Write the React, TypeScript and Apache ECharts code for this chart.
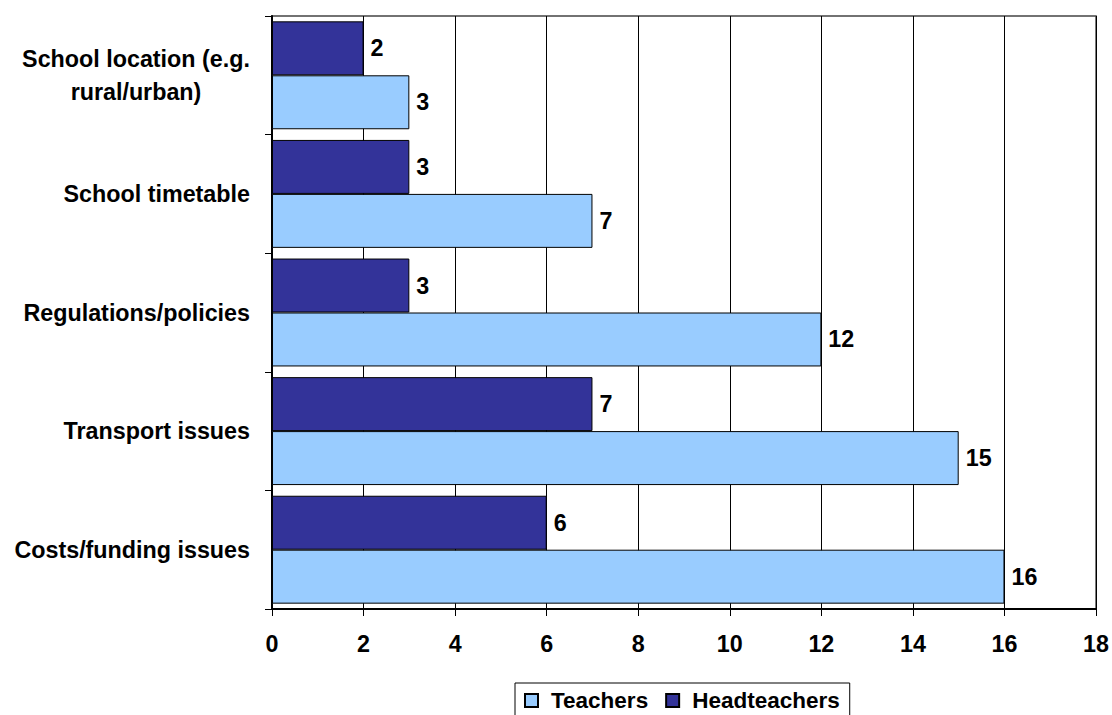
import React, { useEffect, useRef } from "react";
import * as echarts from "echarts";

const categories = [
  "Costs/funding issues",
  "Transport issues",
  "Regulations/policies",
  "School timetable",
  "School location (e.g.\nrural/urban)",
];
const teachers = [16, 15, 12, 7, 3];
const headteachers = [6, 7, 3, 3, 2];
const xTicks = { min: 0, max: 18, interval: 2 };

const FONT = 'Arial, "Liberation Sans", sans-serif';
const FS = 23.3;

export default function App() {
  const ref = useRef<HTMLDivElement>(null);
  useEffect(() => {
    if (!ref.current) return;
    const chart = echarts.init(ref.current, null, { renderer: "svg" });
    const labelStyle = {
      show: true,
      position: "right",
      distance: 7,
      color: "#000",
      fontFamily: FONT,
      fontWeight: "bold",
      fontSize: FS,
    };
    chart.setOption({
      animation: false,
      backgroundColor: "#fff",
      grid: {
        left: 272,
        right: 15,
        top: 16,
        bottom: 106,
        show: true,
        borderColor: "#444",
        borderWidth: 1.5,
      },
      legend: {
        data: ["Teachers", "Headteachers"],
        left: 515,
        top: 683,
        orient: "horizontal",
        icon: "rect",
        itemWidth: 13,
        itemHeight: 13,
        itemGap: 17,
        padding: [6, 10, 12, 9],
        borderColor: "#000",
        borderWidth: 1,
        textStyle: {
          color: "#000",
          fontFamily: FONT,
          fontWeight: "bold",
          fontSize: 22.5,
          padding: [0, 0, 0, 8],
        },
      },
      xAxis: {
        type: "value",
        min: xTicks.min,
        max: xTicks.max,
        interval: xTicks.interval,
        axisLine: { show: true, lineStyle: { color: "#000", width: 2 } },
        axisTick: { show: true, length: 7, lineStyle: { color: "#000", width: 1 } },
        splitLine: { show: true, lineStyle: { color: "#000", width: 1 } },
        axisLabel: {
          color: "#000",
          fontFamily: FONT,
          fontWeight: "bold",
          fontSize: FS,
          margin: 23,
        },
      },
      yAxis: {
        type: "category",
        data: categories,
        axisLine: { show: true, lineStyle: { color: "#000", width: 2 } },
        axisTick: { show: true, length: 7, lineStyle: { color: "#000", width: 1 } },
        axisLabel: {
          color: "#000",
          fontFamily: FONT,
          fontWeight: "bold",
          fontSize: FS,
          margin: 22,
          align: "right",
          formatter: (v: string) => {
            if (v.includes("\n")) {
              return v
                .split("\n")
                .map((l) => `{c|${l}}`)
                .join("\n");
            }
            return v;
          },
          rich: {
            c: {
              width: 228,
              align: "center",
              lineHeight: 33,
              color: "#000",
              fontFamily: FONT,
              fontWeight: "bold",
              fontSize: FS,
            },
          },
        },
      },
      series: [
        {
          name: "Headteachers",
          type: "bar",
          data: headteachers,
          barGap: "0%",
          barCategoryGap: "9%",
          itemStyle: { color: "#333399", borderColor: "#000", borderWidth: 1 },
          label: labelStyle,
        },
        {
          name: "Teachers",
          type: "bar",
          data: teachers,
          barGap: "0%",
          barCategoryGap: "9%",
          itemStyle: { color: "#99CCFF", borderColor: "#000", borderWidth: 1 },
          label: labelStyle,
        },
      ],
    });
    return () => chart.dispose();
  }, []);
  return (
    <div
      ref={ref}
      style={{ position: "fixed", left: 0, top: 0, width: 1112, height: 715, background: "#fff" }}
    />
  );
}
